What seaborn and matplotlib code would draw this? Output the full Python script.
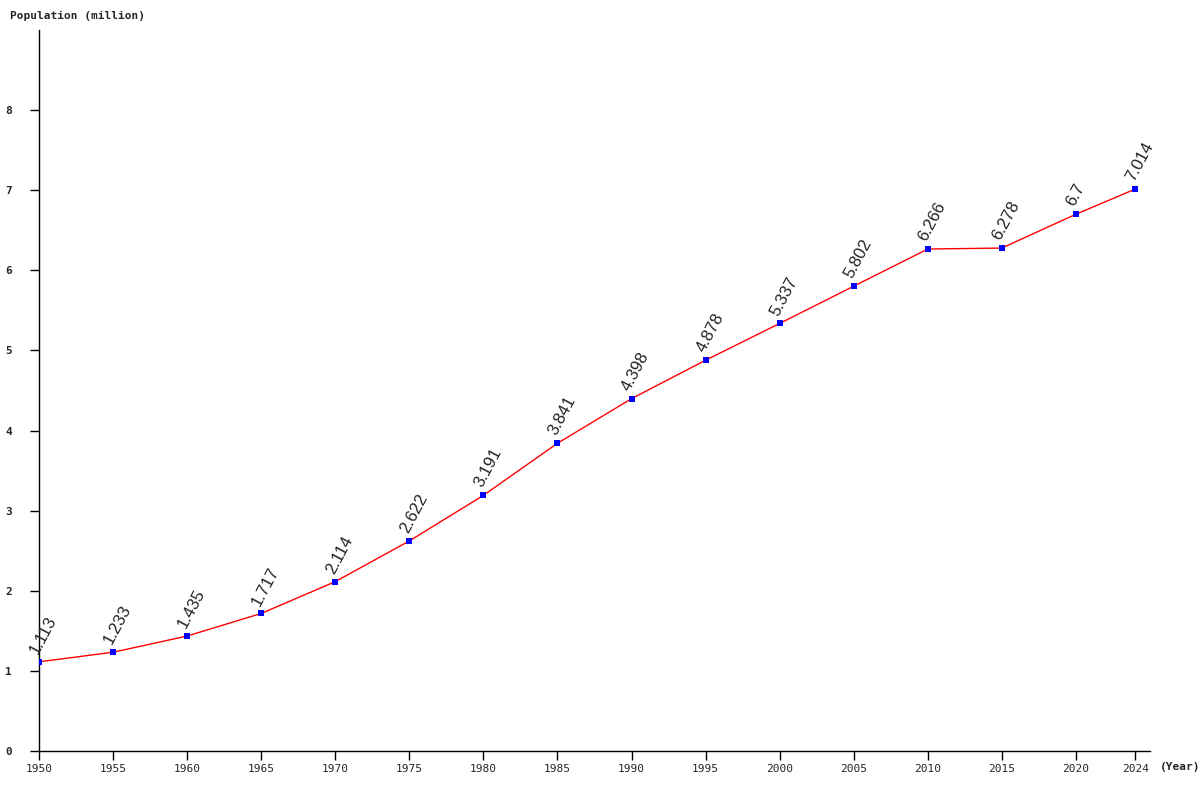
import pandas as pd
import matplotlib.pyplot as plt
import seaborn as sns

# =========================
# DATA
# =========================
years = [1950, 1955, 1960, 1965, 1970, 1975, 1980, 1985, 1990, 1995,
         2000, 2005, 2010, 2015, 2020, 2024]
population = [1.113, 1.233, 1.435, 1.717, 2.114, 2.622, 3.191, 3.841, 4.398, 4.878,
              5.337, 5.802, 6.266, 6.278, 6.7, 7.014]
labels = ["1.113", "1.233", "1.435", "1.717", "2.114", "2.622", "3.191", "3.841", "4.398", "4.878",
          "5.337", "5.802", "6.266", "6.278", "6.7", "7.014"]
y_ticks = [0, 1, 2, 3, 4, 5, 6, 7, 8]

df = pd.DataFrame({"Year": years, "Population": population})

# =========================
# PLOT
# =========================
sns.set_style("white")
mono = "DejaVu Sans Mono"

fig = plt.figure(figsize=(12, 8), dpi=100)
ax = fig.add_axes([0.0325, 0.06125, 0.9258, 0.90125])

sns.lineplot(data=df, x="Year", y="Population", ax=ax, color="red", linewidth=1)
sns.scatterplot(data=df, x="Year", y="Population", ax=ax, color="blue", marker="s",
                s=22, edgecolor="blue", linewidth=0, zorder=3)

for x, y, t in zip(years, population, labels):
    ax.annotate(t, (x, y), xytext=(-1, 5), textcoords="offset points",
                rotation=62, rotation_mode="anchor", ha="left", va="baseline",
                fontsize=12, color="#222222", family="Liberation Sans")

ax.set_xlim(1950, 2025)
ax.set_ylim(0, 9)
ax.set_xticks(years)
ax.set_xticklabels([str(y) for y in years], family=mono, fontsize=8)
ax.set_yticks(y_ticks)
ax.set_yticklabels([str(v) for v in y_ticks], family=mono, fontsize=8, fontweight="bold")
ax.tick_params(axis="both", direction="out", length=6.5, width=1, color="black",
               bottom=True, left=True)
ax.tick_params(axis="x", pad=3)
ax.tick_params(axis="y", pad=13)
ax.set_xlabel("")
ax.set_ylabel("")

for side in ["top", "right"]:
    ax.spines[side].set_visible(False)
for side in ["left", "bottom"]:
    ax.spines[side].set_color("black")
    ax.spines[side].set_linewidth(1)

fig.text(10 / 1200, 1 - 16 / 800, "Population (million)", family=mono, fontsize=8,
         fontweight="bold", va="center", ha="left")
fig.text(1160 / 1200, 1 - 767 / 800, "(Year)", family=mono, fontsize=8,
         fontweight="bold", va="center", ha="left")

fig.savefig("out.png", dpi=100)
